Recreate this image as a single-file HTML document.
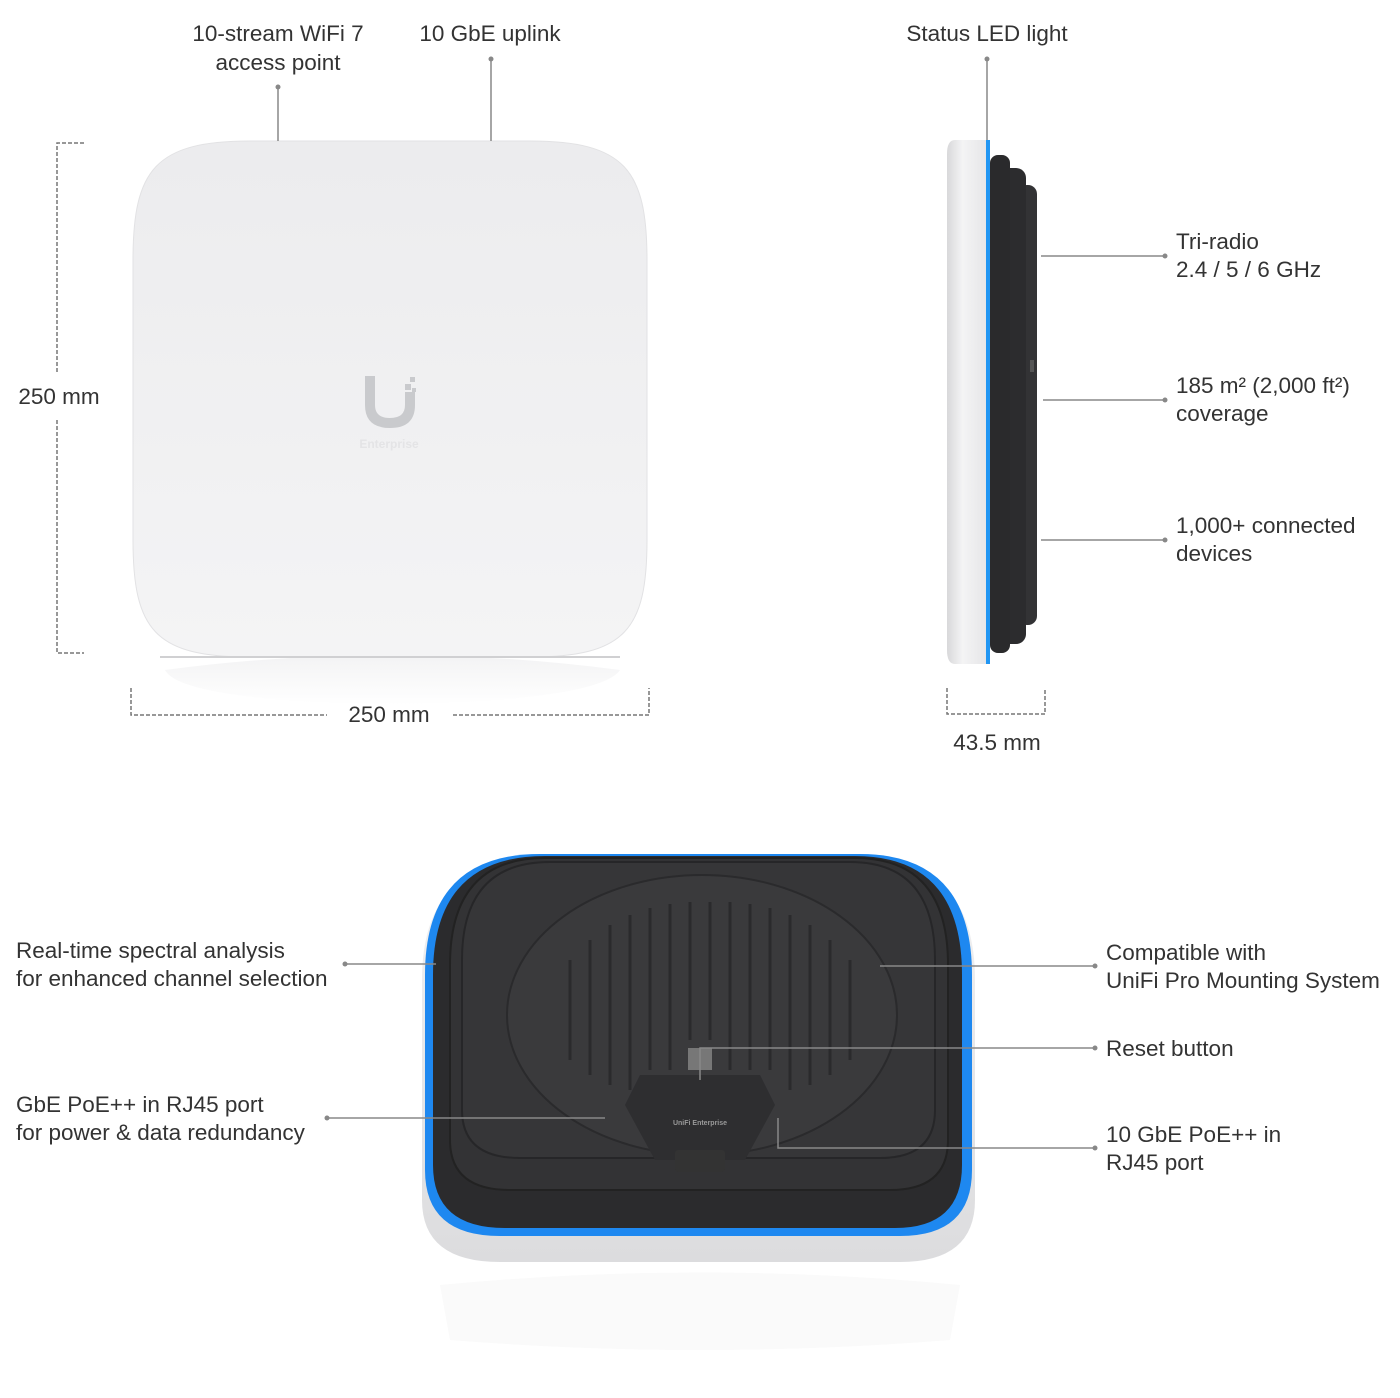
<!DOCTYPE html>
<html><head><meta charset="utf-8"><style>
html,body{margin:0;padding:0;background:#fff}
svg{display:block}
text{font-family:"Liberation Sans",sans-serif;font-size:22.5px;fill:#333}
</style></head><body>
<svg width="1400" height="1398" viewBox="0 0 1400 1398" xmlns="http://www.w3.org/2000/svg">
<defs>
<linearGradient id="tg" x1="0" y1="0" x2="0" y2="1"><stop offset="0" stop-color="#ececee"/><stop offset="1" stop-color="#f4f4f5"/></linearGradient>
<linearGradient id="side" x1="0" y1="0" x2="1" y2="0"><stop offset="0" stop-color="#d8d8da"/><stop offset="0.4" stop-color="#f4f4f5"/><stop offset="1" stop-color="#e6e6e8"/></linearGradient>
<linearGradient id="base" x1="0" y1="0" x2="0" y2="1"><stop offset="0" stop-color="#f2f2f3"/><stop offset="1" stop-color="#dcdcde"/></linearGradient>
<linearGradient id="refl" x1="0" y1="0" x2="0" y2="1"><stop offset="0" stop-color="#f3f3f4"/><stop offset="1" stop-color="#fff"/></linearGradient>
</defs>

<!-- Top device -->
<path d="M165 670 Q390 640 620 670 Q600 700 390 705 Q180 700 165 670Z" fill="url(#refl)"/>
<path d="M250 141 L530 141 C625 141 647 170 647 260 L647 540 C647 630 625 657 530 657 L250 657 C155 657 133 630 133 540 L133 260 C133 170 155 141 250 141Z" fill="url(#tg)" stroke="#e2e2e4" stroke-width="1"/>
<line x1="160" y1="657" x2="620" y2="657" stroke="#d0d0d2" stroke-width="2"/>
<path d="M365 376 L365 405 Q365 428 390 428 Q415 428 415 405 L415 392 L405 392 L405 405 Q405 418 390 418 Q375 418 375 405 L375 376Z" fill="#c9cacd"/>
<rect x="405" y="384" width="6" height="6" fill="#c9cacd"/><rect x="410" y="377" width="5" height="5" fill="#c9cacd"/><rect x="412" y="388" width="4" height="4" fill="#c9cacd"/>
<text x="389" y="448" text-anchor="middle" style="font-size:12px;fill:#e4e4e6;font-weight:bold">Enterprise</text>

<!-- top callouts -->
<line x1="278" y1="87" x2="278" y2="141" stroke="#888" stroke-width="1.5"/><circle cx="278" cy="87" r="2.5" fill="#888"/>
<line x1="491" y1="59" x2="491" y2="141" stroke="#888" stroke-width="1.5"/><circle cx="491" cy="59" r="2.5" fill="#888"/>
<text x="278" y="41" text-anchor="middle">10-stream WiFi 7</text>
<text x="278" y="70" text-anchor="middle">access point</text>
<text x="490" y="41" text-anchor="middle">10 GbE uplink</text>

<!-- dims -->
<path d="M84 143 L57 143 L57 372 M57 420 L57 653 L84 653" fill="none" stroke="#777" stroke-width="1.5" stroke-dasharray="4 2"/>
<text x="59" y="404" text-anchor="middle">250 mm</text>
<path d="M131 688 L131 715 L327 715 M453 715 L649 715 L649 688" fill="none" stroke="#777" stroke-width="1.5" stroke-dasharray="4 2"/>
<text x="389" y="722" text-anchor="middle">250 mm</text>

<!-- side device -->
<rect x="1018" y="185" width="19" height="440" rx="9" fill="#333335"/>
<rect x="1000" y="168" width="26" height="476" rx="10" fill="#2c2c2e"/>
<rect x="990" y="155" width="20" height="498" rx="8" fill="#2a2a2c"/>
<path d="M955 140 L986 140 L986 664 L955 664 Q947 664 947 650 L947 154 Q947 140 955 140Z" fill="url(#side)"/>
<rect x="986" y="140" width="4" height="524" fill="#2196f3"/>
<rect x="1030" y="360" width="4" height="12" fill="#555"/>
<line x1="987" y1="59" x2="987" y2="140" stroke="#888" stroke-width="1.5"/><circle cx="987" cy="59" r="2.5" fill="#888"/>
<text x="987" y="41" text-anchor="middle">Status LED light</text>
<line x1="1041" y1="256" x2="1165" y2="256" stroke="#888" stroke-width="1.5"/><circle cx="1165" cy="256" r="2.5" fill="#888"/>
<line x1="1043" y1="400" x2="1165" y2="400" stroke="#888" stroke-width="1.5"/><circle cx="1165" cy="400" r="2.5" fill="#888"/>
<line x1="1041" y1="540" x2="1165" y2="540" stroke="#888" stroke-width="1.5"/><circle cx="1165" cy="540" r="2.5" fill="#888"/>
<text x="1176" y="249">Tri-radio</text><text x="1176" y="277">2.4 / 5 / 6 GHz</text>
<text x="1176" y="393">185 m² (2,000 ft²)</text><text x="1176" y="421">coverage</text>
<text x="1176" y="533">1,000+ connected</text><text x="1176" y="561">devices</text>
<path d="M947 688 L947 714 L1045 714 L1045 688" fill="none" stroke="#777" stroke-width="1.5" stroke-dasharray="4 2"/>
<text x="997" y="750" text-anchor="middle">43.5 mm</text>

<!-- bottom device -->
<path d="M440 1285 Q700 1260 960 1285 L950 1340 Q700 1360 450 1340Z" fill="#fafafa"/>
<path d="M540 858 L860 858 Q975 858 975 980 L975 1200 Q975 1262 900 1262 L500 1262 Q422 1262 422 1200 L422 980 Q422 858 540 858Z" fill="url(#base)"/>
<path d="M540 854 L860 854 Q972 854 972 975 L972 1170 Q972 1236 900 1236 L500 1236 Q425 1236 425 1170 L425 975 Q425 854 540 854Z" fill="#1e88f0"/>
<path d="M545 856 L855 856 Q962 856 962 975 L962 1165 Q962 1228 895 1228 L505 1228 Q433 1228 433 1165 L433 975 Q433 856 545 856Z" fill="#2b2b2d"/>
<path d="M545 858 L855 858 Q948 858 948 965 L948 1140 Q948 1190 890 1190 L510 1190 Q450 1190 450 1140 L450 965 Q450 858 545 858Z" fill="#333335" stroke="#222" stroke-width="2"/>
<path d="M550 862 L850 862 Q935 862 935 960 L935 1110 Q935 1158 880 1158 L520 1158 Q462 1158 462 1110 L462 960 Q462 862 550 862Z" fill="#363638" stroke="#262628" stroke-width="2"/>
<ellipse cx="702" cy="1015" rx="195" ry="140" fill="#3a3a3c" stroke="#2a2a2c" stroke-width="2"/>
<g stroke="#2a2a2c" stroke-width="3">
<line x1="570" y1="960" x2="570" y2="1060"/><line x1="590" y1="940" x2="590" y2="1075"/><line x1="610" y1="925" x2="610" y2="1085"/><line x1="630" y1="915" x2="630" y2="1090"/><line x1="650" y1="908" x2="650" y2="1070"/><line x1="670" y1="904" x2="670" y2="1070"/><line x1="690" y1="902" x2="690" y2="1040"/><line x1="710" y1="902" x2="710" y2="1040"/><line x1="730" y1="902" x2="730" y2="1070"/><line x1="750" y1="904" x2="750" y2="1070"/><line x1="770" y1="908" x2="770" y2="1070"/><line x1="790" y1="915" x2="790" y2="1090"/><line x1="810" y1="925" x2="810" y2="1085"/><line x1="830" y1="940" x2="830" y2="1075"/><line x1="850" y1="960" x2="850" y2="1060"/>
</g>
<path d="M640 1075 L760 1075 L775 1105 L745 1160 L655 1160 L625 1105Z" fill="#2e2e30"/>
<rect x="688" y="1048" width="24" height="22" fill="#777"/>
<rect x="675" y="1150" width="50" height="22" rx="3" fill="#333"/>
<text x="700" y="1125" text-anchor="middle" style="font-size:7px;fill:#999;font-weight:bold">UniFi Enterprise</text>

<!-- bottom callouts -->
<line x1="345" y1="964" x2="436" y2="964" stroke="#888" stroke-width="1.5"/><circle cx="345" cy="964" r="2.5" fill="#888"/>
<line x1="327" y1="1118" x2="605" y2="1118" stroke="#888" stroke-width="1.5"/><circle cx="327" cy="1118" r="2.5" fill="#888"/>
<line x1="880" y1="966" x2="1095" y2="966" stroke="#888" stroke-width="1.5"/><circle cx="1095" cy="966" r="2.5" fill="#888"/>
<path d="M700 1080 L700 1048 L1095 1048" fill="none" stroke="#888" stroke-width="1.5"/><circle cx="1095" cy="1048" r="2.5" fill="#888"/>
<path d="M778 1118 L778 1148 L1095 1148" fill="none" stroke="#888" stroke-width="1.5"/><circle cx="1095" cy="1148" r="2.5" fill="#888"/>
<text x="16" y="958">Real-time spectral analysis</text><text x="16" y="986">for enhanced channel selection</text>
<text x="16" y="1112">GbE PoE++ in RJ45 port</text><text x="16" y="1140">for power &amp; data redundancy</text>
<text x="1106" y="960">Compatible with</text><text x="1106" y="988">UniFi Pro Mounting System</text>
<text x="1106" y="1056">Reset button</text>
<text x="1106" y="1142">10 GbE PoE++ in</text><text x="1106" y="1170">RJ45 port</text>
</svg>
</body></html>
